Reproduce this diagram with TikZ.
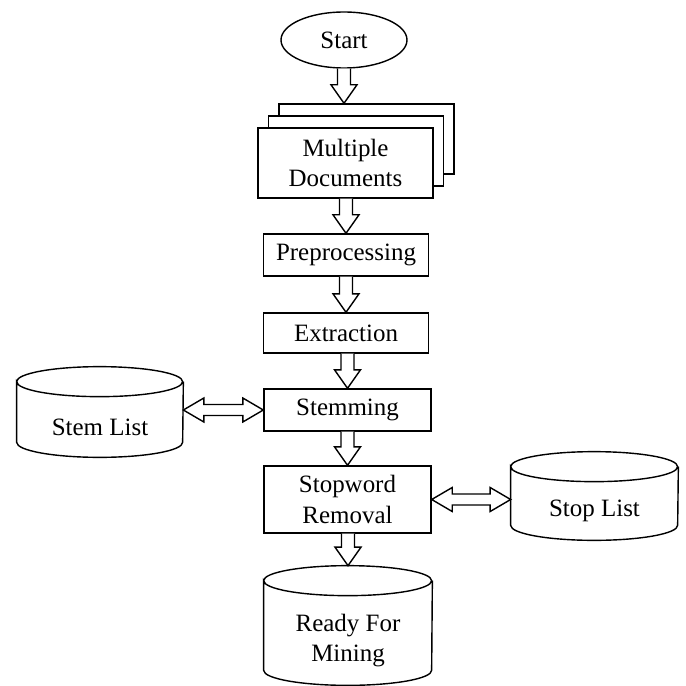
\documentclass[tikz,border=0pt]{standalone}
\usepackage{fontspec}
\setmainfont{Liberation Serif}
\usetikzlibrary{positioning}
\usetikzlibrary{calc}
\usetikzlibrary{shapes}
\usetikzlibrary{shadows}
\tikzset{mybox/.style={draw, line width=0.8pt, fill=white, align=center, minimum width=3.3cm, minimum height=0.84cm, font=\fontsize{14.2}{17.6}\selectfont}}
\tikzset{myboxDoc/.style={mybox, minimum width=3.5cm, minimum height=1.4cm, double copy shadow={shadow xshift=0.21cm, shadow yshift=0.24cm}}}
\tikzset{myellipse/.style={draw, ellipse, line width=0.8pt, minimum width=2.52cm, minimum height=1.12cm, font=\fontsize{14.2}{17.6}\selectfont}}
\tikzset{mycyl/.style={inner sep=0pt, align=center, font=\fontsize{14.2}{17.6}\selectfont}}
\tikzset{myarrow/.style={draw, line width=0.8pt, fill=white, line join=miter}}
\newcommand{\arrsw}{0.13}
\newcommand{\arrhw}{0.26}
\newcommand{\arrhl}{0.37}
\newcommand{\dblsw}{0.11}
\newcommand{\dblhw}{0.24}
\newcommand{\dblhl}{0.41}
\newcommand{\cylry}{0.3cm}
% hollow block arrow, upper point to lower point
\newcommand{\downflow}[2]{
\draw[myarrow] ($(#1)+(-\arrsw,0)$) -- ($(#2)+(-\arrsw,\arrhl)$) -- ($(#2)+(-\arrhw,\arrhl)$) -- (#2) -- ($(#2)+(\arrhw,\arrhl)$) -- ($(#2)+(\arrsw,\arrhl)$) -- ($(#1)+(\arrsw,0)$);
}
% hollow block arrow with two heads, left point to right point
\newcommand{\twoflow}[2]{
\draw[myarrow] (#1) -- ($(#1)+(\dblhl,\dblhw)$) -- ($(#1)+(\dblhl,\dblsw)$) -- ($(#2)+(-\dblhl,\dblsw)$) -- ($(#2)+(-\dblhl,\dblhw)$) -- (#2) -- ($(#2)+(-\dblhl,-\dblhw)$) -- ($(#2)+(-\dblhl,-\dblsw)$) -- ($(#1)+(\dblhl,-\dblsw)$) -- ($(#1)+(\dblhl,-\dblhw)$) -- cycle;
}
% database drum round a node, #2 = half width
\newcommand{\cylframe}[2]{
\draw[line width=0.8pt] ($(#1.north west)+(0,\cylry)$) arc[start angle=180, end angle=-180, x radius=#2, y radius=\cylry] -- ($(#1.south west)+(0,\cylry)$) arc[start angle=180, end angle=360, x radius=#2, y radius=\cylry] -- ($(#1.north east)+(0,\cylry)$);
}

\begin{document}
\begin{tikzpicture}

\useasboundingbox (0, 0) rectangle (13.7, -13.72);

\node[myellipse] (start) at (6.88, -0.8) {Start};
\node[myboxDoc] (docs) at (6.91, -3.26) {Multiple\\Documents};
\node[mybox] (prep) at (6.92, -5.1) {Preprocessing};
\node[mybox, minimum height=0.8cm] (extr) at (6.92, -6.66) {Extraction};
\node[mybox, minimum width=3.34cm] (stem) at (6.95, -8.2) {Stemming};
\node[mybox, minimum width=3.34cm, minimum height=1.34cm] (stop) at (6.95, -9.99) {Stopword\\Removal};

\node[mycyl, minimum width=3.32cm, minimum height=1.2cm] (stemlist) at (2.0, -8.54) {Stem List};
\node[mycyl, minimum width=3.34cm, minimum height=1.16cm] (stoplist) at (11.89, -10.22) {Stop List};
\node[mycyl, minimum width=3.36cm, minimum height=1.78cm] (ready) at (6.96, -12.81) {Ready For\\Mining};

\cylframe{stemlist}{1.66cm}
\cylframe{stoplist}{1.67cm}
\cylframe{ready}{1.68cm}

\coordinate (docstop) at ($(start.south |- docs.north)+(0, 0.48)$);
\coordinate (readytop) at ($(ready.north)+(0, 0.6)$);

\downflow{start.south}{docstop}
\downflow{docs.south -| prep.north}{prep.north}
\downflow{prep.south}{extr.north}
\downflow{extr.south -| stem.north}{stem.north}
\downflow{stem.south}{stop.north}
\downflow{stop.south -| readytop}{readytop}

\twoflow{stemlist.east |- stem.west}{stem.west}
\twoflow{stop.east}{stoplist.west |- stop.east}

\end{tikzpicture}
\end{document}
